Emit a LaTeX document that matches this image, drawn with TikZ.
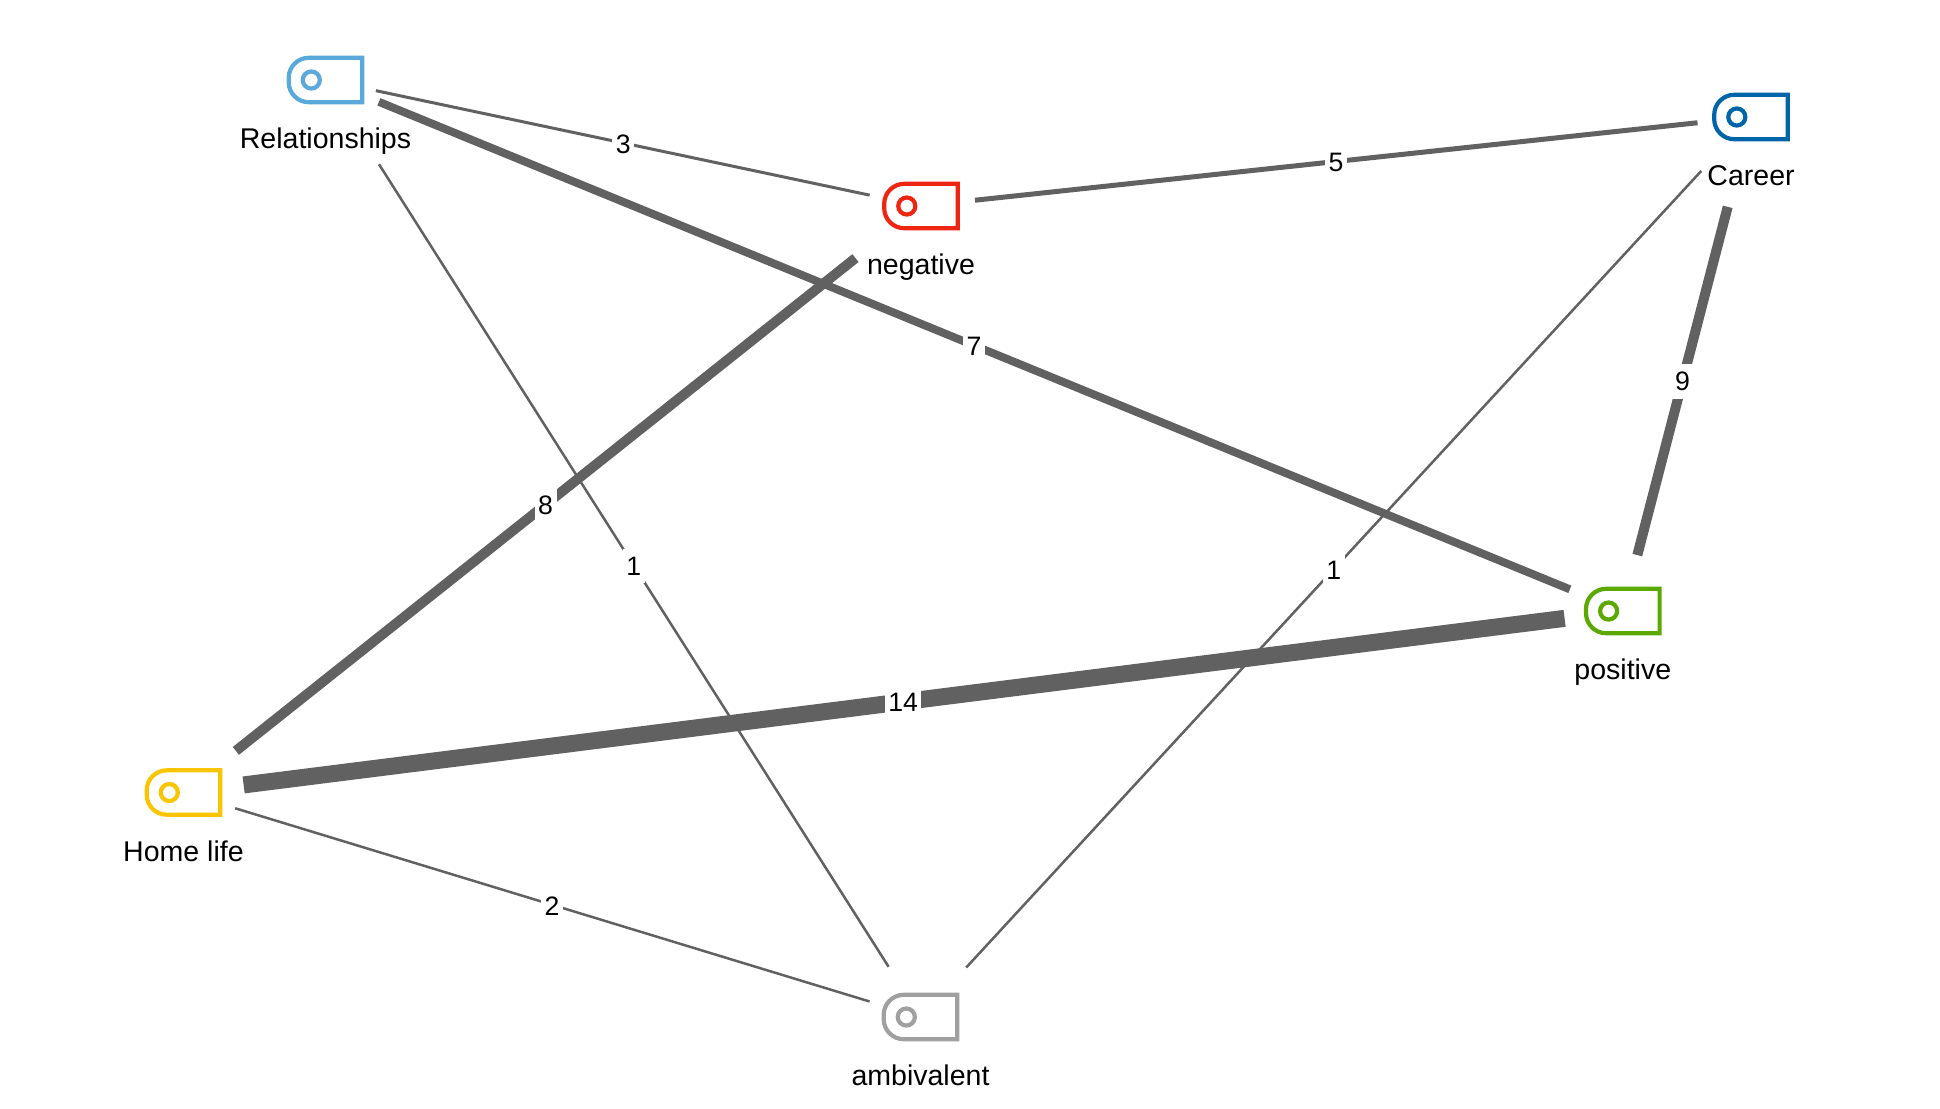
\documentclass[tikz,border=0pt]{standalone}
\usepackage{fontspec}
\setmainfont{Liberation Sans}
\definecolor{relc}{HTML}{5AA9DC}
\definecolor{negc}{HTML}{EE2512}
\definecolor{carc}{HTML}{0065A8}
\definecolor{posc}{HTML}{5BA800}
\definecolor{homc}{HTML}{F8C500}
\definecolor{ambc}{HTML}{A0A0A0}
\definecolor{edgec}{HTML}{616161}
\def\px{0.75pt}
\tikzset{
  hub/.style={inner sep=0pt,outer sep=0pt,minimum size=0pt},
  tagname/.style={anchor=base,inner sep=0pt,font=\fontsize{21.4}{25}\selectfont,text=black},
  tagline/.style={line width=4.2*\px},
  link/.style n args={3}{draw=edgec,line width=#1*\px,shorten <=#2*\px,shorten >=#3*\px},
  count/.style={fill=white,inner xsep=3.5*\px,inner ysep=8*\px,yshift=-0.7pt,font=\fontsize{20}{24}\selectfont,text=black},
}
\newcommand{\tagnode}[5]{% name, x, y, colour, label
  \node[hub] (#1) at (#2,#3) {};
  \draw[tagline,draw=#4,shift={(#1.center)}] (36.8,-22.2) -- (-16.8,-22.2)
     .. controls (-27.8,-22.2) and (-36.8,-13.2) .. (-36.8,-2.2) -- (-36.8,2.2)
     .. controls (-36.8,13.2) and (-27.8,22.2) .. (-16.8,22.2) -- (36.8,22.2) -- cycle;
  \draw[tagline,draw=#4,shift={(#1.center)}] (-14.2,0) circle[radius=6.4pt];
  \node[tagname] (#1-label) at ([yshift=-51.4pt]#1.center) {#5};
}
\begin{document}
\begin{tikzpicture}[x=0.75pt,y=-0.75pt]
\useasboundingbox (0,0) rectangle (1940,1108);
\tagnode{rel}{325.5}{80}{relc}{Relationships}
\tagnode{neg}{921}{206}{negc}{negative}
\tagnode{car}{1751}{117}{carc}{Career}
\tagnode{pos}{1622.8}{611}{posc}{positive}
\tagnode{hom}{183.5}{792.5}{homc}{Home life}
\tagnode{amb}{920.5}{1017}{ambc}{ambivalent}
\draw[link={3}{51.5}{52.5}] (rel) -- node[count,pos=.5] {3} (neg);
\draw[link={5}{54.3}{53.8}] (neg) -- node[count,pos=.5] {5} (car);
\draw[link={8}{57.7}{57.2}] (rel) -- node[count,pos=.5] {7} (pos);
\draw[link={2.5}{99.8}{59.5}] (rel) -- node[count,pos=.518] {1} (amb);
\draw[link={10}{83.7}{66.9}] (neg) -- node[count,pos=.509] {8} (hom);
\draw[link={10}{92.8}{57.8}] (car) -- node[count,pos=.534] {9} (pos);
\draw[link={2.5}{73.4}{67.4}] (car) -- node[count,pos=.5025] {1} (amb);
\draw[link={17}{60.6}{58.7}] (hom) -- node[count,pos=.5] {14} (pos);
\draw[link={2.5}{54}{53.2}] (hom) -- node[count,pos=.5] {2} (amb);
\end{tikzpicture}
\end{document}
